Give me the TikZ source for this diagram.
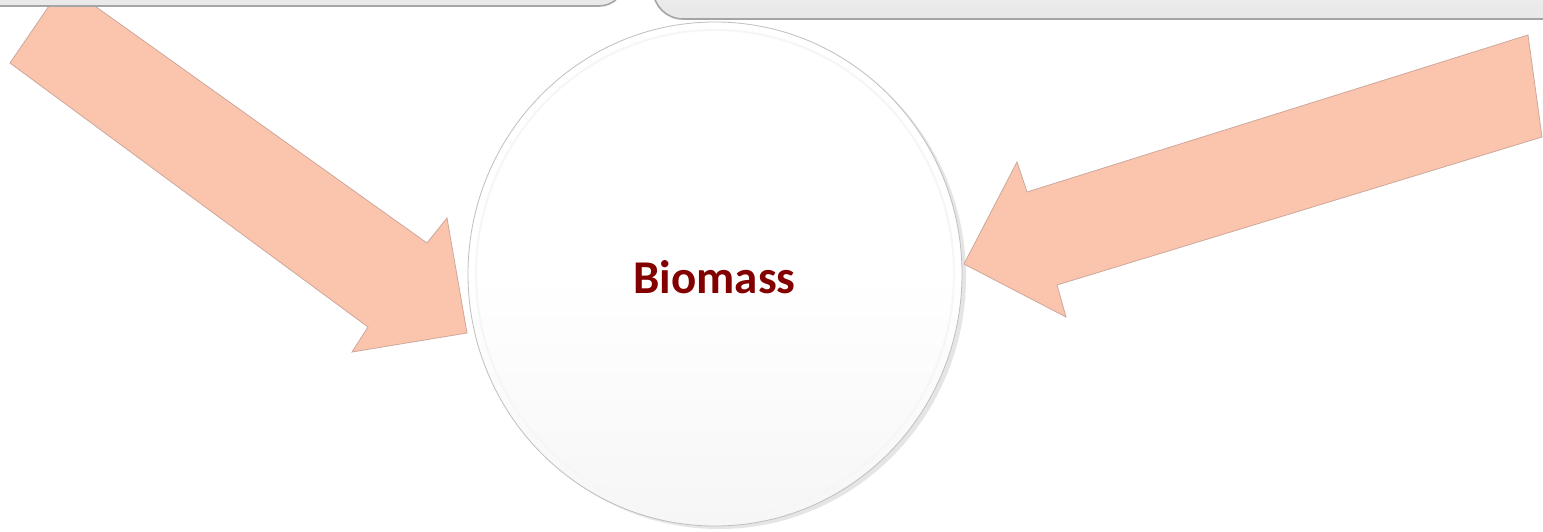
\documentclass[tikz,border=0pt]{standalone}
\usepackage{fontspec}
\newfontfamily\carlito{Carlito}
\usetikzlibrary{shapes.geometric}
\definecolor{arrowfill}{RGB}{251,196,172}
\definecolor{arrowline}{RGB}{205,168,156}
\definecolor{biored}{RGB}{130,0,0}
\definecolor{boxline}{RGB}{165,165,165}
\begin{document}
\begin{tikzpicture}[x=1pt,y=-1pt,
  topbox/.style={top color=white!94!gray, bottom color=white!82!gray, draw=boxline, line width=1.6pt},
  blockarrow/.style={fill=arrowfill, draw=arrowline, line width=0.8pt, line join=miter},
  biocircle/.style={ellipse, minimum width=494pt, minimum height=504pt, inner sep=0pt,
     top color=white, bottom color=white!93!gray, middle color=white, draw=gray!50, line width=0.8pt},
  biotext/.style={text=biored, font=\carlito\bfseries\fontsize{47}{56}\selectfont}]
\useasboundingbox (0,0) rectangle (1543,531);
\clip (0,0) rectangle (1543,531);
\fill[white] (0,0) rectangle (1543,531);
% central circle
\fill[gray!20] (719,277) ellipse [x radius=247pt, y radius=252pt];
\node[biocircle] (bio) at (715,274) {};
\draw[white!93!gray, line width=2pt] (bio.center) ellipse [x radius=239pt, y radius=244pt];
\node[biotext] (biolabel) at (714.5,277) {Biomass};
% left block arrow
\coordinate (L1) at (64,-16);
\coordinate (L2) at (10,63);
\coordinate (L3) at (368,327);
\coordinate (L4) at (352,352);
\coordinate (L5) at (467,333);
\coordinate (L6) at (447,218);
\coordinate (L7) at (427,243);
\draw[blockarrow] (L1) -- (L2) -- (L3) -- (L4) -- (L5) -- (L6) -- (L7) -- cycle;
% right block arrow
\coordinate (R1) at (1528,35);
\coordinate (R2) at (1542,137);
\coordinate (R3) at (1057,285);
\coordinate (R4) at (1066,317);
\coordinate (R5) at (964,264);
\coordinate (R6) at (1017,162);
\coordinate (R7) at (1027,192);
\draw[blockarrow] (R1) -- (R2) -- (R3) -- (R4) -- (R5) -- (R6) -- (R7) -- cycle;
% top boxes (cut off by the top edge), drawn over the arrow tail
\draw[topbox, rounded corners=26pt] (-40,-80) rectangle (625,6) node[coordinate] (boxL) {};
\draw[topbox, rounded corners=30pt] (653,-80) rectangle (1590,19) node[coordinate] (boxR) {};
\end{tikzpicture}
\end{document}
